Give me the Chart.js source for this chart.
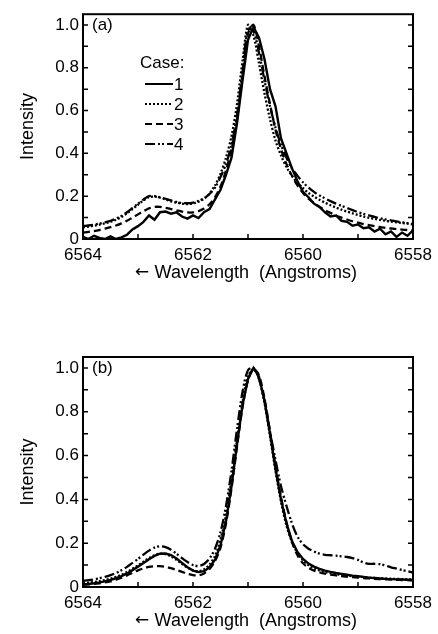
<!DOCTYPE html>
<html lang="en">
<head>
<meta charset="UTF-8">
<title>Intensity vs wavelength</title>
<script src="https://cdn.jsdelivr.net/npm/chart.js"></script>
<style>
  html, body { margin: 0; padding: 0; background: #fff; }
  body { width: 438px; height: 634px; position: relative; overflow: hidden; }
  .panel { position: absolute; left: 0; width: 438px; }
  #wrapA { top: 0; height: 290px; }
  #wrapB { top: 340px; height: 294px; }
</style>
</head>
<body>
<div class="panel" id="wrapA"><canvas id="chartA"></canvas></div>
<div class="panel" id="wrapB"><canvas id="chartB"></canvas></div>
<script>
// wavelength grid (Angstroms)
const wavelength = [6564.0, 6563.9, 6563.8, 6563.7, 6563.6, 6563.5, 6563.4, 6563.3, 6563.2, 6563.1,
  6563.0, 6562.9, 6562.8, 6562.7, 6562.6, 6562.5, 6562.4, 6562.3, 6562.2, 6562.1,
  6562.0, 6561.9, 6561.8, 6561.7, 6561.6, 6561.5, 6561.4, 6561.3, 6561.2, 6561.1,
  6561.0, 6560.9, 6560.8, 6560.7, 6560.6, 6560.5, 6560.4, 6560.3, 6560.2, 6560.1,
  6560.0, 6559.9, 6559.8, 6559.7, 6559.6, 6559.5, 6559.4, 6559.3, 6559.2, 6559.1,
  6559.0, 6558.9, 6558.8, 6558.7, 6558.6, 6558.5, 6558.4, 6558.3, 6558.2, 6558.1, 6558.0];

const caseLabels = ['1', '2', '3', '4'];

// panel (a)
const a1 = [0.010, 0.000, 0.015, 0.005, 0.000, 0.012, 0.000, 0.008, 0.020, 0.045,
  0.060, 0.080, 0.110, 0.090, 0.125, 0.128, 0.118, 0.125, 0.105, 0.095,
  0.110, 0.098, 0.125, 0.140, 0.185, 0.230, 0.300, 0.380, 0.540, 0.740,
  0.930, 0.990, 0.940, 0.840, 0.700, 0.620, 0.470, 0.400, 0.330, 0.270,
  0.220, 0.195, 0.165, 0.150, 0.125, 0.105, 0.110, 0.085, 0.080, 0.062,
  0.068, 0.050, 0.055, 0.035, 0.048, 0.022, 0.035, 0.010, 0.030, 0.015, 0.040];
const a2 = [0.055, 0.058, 0.062, 0.067, 0.073, 0.080, 0.090, 0.103, 0.120, 0.140,
  0.160, 0.180, 0.195, 0.198, 0.193, 0.185, 0.176, 0.170, 0.165, 0.163,
  0.166, 0.174, 0.188, 0.212, 0.250, 0.305, 0.380, 0.480, 0.630, 0.830,
  1.000, 0.950, 0.820, 0.680, 0.560, 0.460, 0.390, 0.335, 0.295, 0.262,
  0.238, 0.215, 0.198, 0.183, 0.170, 0.158, 0.147, 0.137, 0.128, 0.120,
  0.112, 0.105, 0.099, 0.094, 0.089, 0.085, 0.081, 0.078, 0.075, 0.072, 0.068];
const a3 = [0.030, 0.033, 0.037, 0.042, 0.048, 0.055, 0.063, 0.073, 0.085, 0.100,
  0.115, 0.130, 0.143, 0.150, 0.150, 0.146, 0.140, 0.134, 0.128, 0.124,
  0.124, 0.130, 0.142, 0.162, 0.195, 0.245, 0.320, 0.420, 0.560, 0.760,
  0.960, 1.000, 0.900, 0.760, 0.630, 0.510, 0.420, 0.350, 0.295, 0.250,
  0.215, 0.188, 0.168, 0.150, 0.135, 0.122, 0.110, 0.100, 0.091, 0.083,
  0.076, 0.070, 0.065, 0.060, 0.056, 0.052, 0.049, 0.046, 0.044, 0.042, 0.040];
const a4 = [0.060, 0.063, 0.067, 0.072, 0.078, 0.085, 0.095, 0.108, 0.125, 0.145,
  0.165, 0.185, 0.200, 0.200, 0.195, 0.188, 0.180, 0.173, 0.168, 0.167,
  0.170, 0.178, 0.190, 0.210, 0.240, 0.290, 0.350, 0.440, 0.580, 0.780,
  0.980, 0.970, 0.870, 0.740, 0.620, 0.520, 0.440, 0.380, 0.330, 0.295,
  0.265, 0.240, 0.220, 0.203, 0.190, 0.177, 0.165, 0.155, 0.145, 0.135,
  0.125, 0.117, 0.110, 0.103, 0.097, 0.092, 0.087, 0.082, 0.078, 0.074, 0.070];

// panel (b)
const b1 = [0.012, 0.014, 0.017, 0.021, 0.026, 0.032, 0.040, 0.050, 0.062, 0.077,
  0.093, 0.110, 0.127, 0.142, 0.152, 0.153, 0.146, 0.130, 0.110, 0.090,
  0.075, 0.068, 0.072, 0.090, 0.125, 0.190, 0.300, 0.460, 0.650, 0.830,
  0.950, 1.000, 0.960, 0.850, 0.700, 0.540, 0.400, 0.290, 0.210, 0.160,
  0.128, 0.107, 0.093, 0.083, 0.075, 0.069, 0.064, 0.060, 0.056, 0.052,
  0.049, 0.046, 0.043, 0.041, 0.039, 0.037, 0.036, 0.035, 0.034, 0.033, 0.032];
const b2 = [0.018, 0.020, 0.023, 0.027, 0.032, 0.038, 0.046, 0.056, 0.068, 0.083,
  0.099, 0.116, 0.132, 0.145, 0.152, 0.150, 0.140, 0.124, 0.105, 0.088,
  0.076, 0.072, 0.080, 0.102, 0.142, 0.215, 0.330, 0.490, 0.670, 0.840,
  0.960, 0.995, 0.950, 0.840, 0.690, 0.530, 0.390, 0.280, 0.205, 0.155,
  0.122, 0.100, 0.085, 0.075, 0.068, 0.063, 0.059, 0.055, 0.052, 0.049,
  0.047, 0.045, 0.043, 0.041, 0.040, 0.039, 0.038, 0.037, 0.036, 0.035, 0.034];
const b3 = [0.010, 0.012, 0.014, 0.017, 0.021, 0.026, 0.033, 0.042, 0.053, 0.065,
  0.076, 0.085, 0.092, 0.095, 0.095, 0.092, 0.086, 0.078, 0.069, 0.060,
  0.054, 0.053, 0.062, 0.082, 0.118, 0.180, 0.290, 0.450, 0.640, 0.820,
  0.945, 0.995, 0.965, 0.860, 0.710, 0.550, 0.410, 0.295, 0.205, 0.145,
  0.108, 0.088, 0.075, 0.067, 0.061, 0.057, 0.053, 0.050, 0.047, 0.045,
  0.043, 0.041, 0.039, 0.037, 0.036, 0.035, 0.034, 0.033, 0.032, 0.031, 0.030];
const b4 = [0.028, 0.031, 0.035, 0.040, 0.046, 0.054, 0.064, 0.077, 0.092, 0.110,
  0.128, 0.148, 0.166, 0.180, 0.186, 0.182, 0.170, 0.152, 0.132, 0.114,
  0.100, 0.096, 0.105, 0.130, 0.175, 0.250, 0.370, 0.530, 0.720, 0.890,
  0.990, 1.000, 0.950, 0.850, 0.710, 0.580, 0.460, 0.370, 0.290, 0.230,
  0.195, 0.175, 0.162, 0.152, 0.147, 0.145, 0.143, 0.140, 0.137, 0.132,
  0.124, 0.112, 0.106, 0.106, 0.104, 0.098, 0.090, 0.084, 0.078, 0.072, 0.066];

const xTicks = [6564, 6562, 6560, 6558];
const yTicks = [0, 0.2, 0.4, 0.6, 0.8, 1.0];

const FONT = "'Liberation Sans', Arial, Helvetica, sans-serif";

// line styles for cases 1..4
const styles = [
  { dash: [], width: 2.4, tension: 0 },
  { dash: [2, 2], width: 2.3, tension: 0.3 },
  { dash: [7, 4], width: 2.3, tension: 0.3 },
  { dash: [10, 3, 2, 2, 2, 3], width: 2.3, tension: 0.3 }
];

function makeDatasets(series) {
  return series.map((vals, i) => ({
    label: caseLabels[i],
    data: wavelength.map((w, j) => ({ x: w, y: vals[j] })),
    borderColor: '#000',
    borderWidth: styles[i].width,
    borderDash: styles[i].dash,
    tension: styles[i].tension,
    pointRadius: 0,
    fill: false
  }));
}

// frame + inward tick marks on bottom, left and right
const framePlugin = {
  id: 'frame',
  afterDatasetsDraw(chart) {
    const { ctx, chartArea: ca, scales } = chart;
    const xs = scales.x, ys = scales.y;
    ctx.save();
    ctx.strokeStyle = '#000';
    ctx.lineWidth = 1.5;
    for (let w = 6558; w <= 6564; w++) {
      const px = xs.getPixelForValue(w);
      ctx.beginPath();
      ctx.moveTo(px, ca.bottom);
      ctx.lineTo(px, ca.bottom - 5);
      ctx.stroke();
    }
    for (let k = 0; k <= 10; k++) {
      const py = ys.getPixelForValue(k / 10);
      ctx.beginPath();
      ctx.moveTo(ca.left, py);
      ctx.lineTo(ca.left + 5, py);
      ctx.moveTo(ca.right, py);
      ctx.lineTo(ca.right - 5, py);
      ctx.stroke();
    }
    ctx.lineWidth = 2;
    ctx.strokeRect(ca.left, ca.top, ca.right - ca.left, ca.bottom - ca.top);
    ctx.restore();
  }
};

// panel letter, x-axis title and (for panel a) the "Case:" key
const notePlugin = {
  id: 'note',
  afterDraw(chart, args, opts) {
    const { ctx, chartArea: ca } = chart;
    ctx.save();
    ctx.fillStyle = '#000';
    ctx.font = '17px ' + FONT;
    ctx.textBaseline = 'middle';
    ctx.textAlign = 'left';
    ctx.fillText(opts.letter, ca.left + 9, ca.top + 11);

    // x title: wide arrow glyph from DejaVu, words in the sans face
    const word = 'Wavelength  (Angstroms)';
    ctx.font = '18px ' + FONT;
    const ww = ctx.measureText(word).width;
    ctx.font = "17px 'DejaVu Sans', sans-serif";
    const arrow = '\u2190 ';
    const aw = ctx.measureText(arrow).width;
    const x0 = (ca.left + ca.right) / 2 - (aw + ww) / 2 - 2;
    const ty = ca.bottom + opts.titleGap;
    ctx.fillText(arrow, x0, ty);
    ctx.font = '18px ' + FONT;
    ctx.fillText(word, x0 + aw, ty);

    if (opts.key) {
      ctx.font = '17px ' + FONT;
      ctx.fillText('Case:', 140, 63);
      chart.data.datasets.forEach((ds, i) => {
        const y = 84 + i * 20;
        ctx.beginPath();
        ctx.setLineDash(ds.borderDash);
        ctx.lineWidth = 2;
        ctx.strokeStyle = '#000';
        ctx.moveTo(145, y);
        ctx.lineTo(173, y);
        ctx.stroke();
        ctx.setLineDash([]);
        ctx.fillText(ds.label, 174, y + 1);
      });
    }
    ctx.restore();
  }
};

function makeChart(id, series, letter, key, padTop, xHeight, titleGap) {
  return new Chart(document.getElementById(id), {
    type: 'line',
    data: { datasets: makeDatasets(series) },
    plugins: [framePlugin, notePlugin],
    options: {
      responsive: true,
      maintainAspectRatio: false,
      animation: false,
      layout: { padding: { top: padTop, right: 25, bottom: 0, left: 0 } },
      plugins: {
        legend: { display: false },
        tooltip: { enabled: false },
        note: { letter: letter, key: key, titleGap: titleGap }
      },
      scales: {
        x: {
          type: 'linear',
          reverse: true,
          min: 6558,
          max: 6564,
          afterBuildTicks: s => { s.ticks = xTicks.map(v => ({ value: v })); },
          afterFit: s => { s.height = xHeight; },
          grid: { display: false, drawTicks: false },
          border: { display: false },
          ticks: { color: '#000', padding: 6, maxRotation: 0, font: { family: FONT, size: 17 },
                   callback: v => String(v) },
          title: { display: false }
        },
        y: {
          min: 0,
          max: 1.05,
          afterBuildTicks: s => { s.ticks = yTicks.map(v => ({ value: v })); },
          afterFit: s => { s.width = 83; },
          grid: { display: false, drawTicks: false },
          border: { display: false },
          ticks: { color: '#000', padding: 4, font: { family: FONT, size: 17 },
                   callback: v => (v === 0 ? '0' : v.toFixed(1)) },
          title: { display: true, text: 'Intensity', color: '#000',
                   font: { family: FONT, size: 18 }, padding: { top: 17, bottom: 0 } }
        }
      }
    }
  });
}

makeChart('chartA', [a1, a2, a3, a4], '(a)', true, 9, 51, 34);
makeChart('chartB', [b1, b2, b3, b4], '(b)', false, 17, 47, 34);
</script>
</body>
</html>
